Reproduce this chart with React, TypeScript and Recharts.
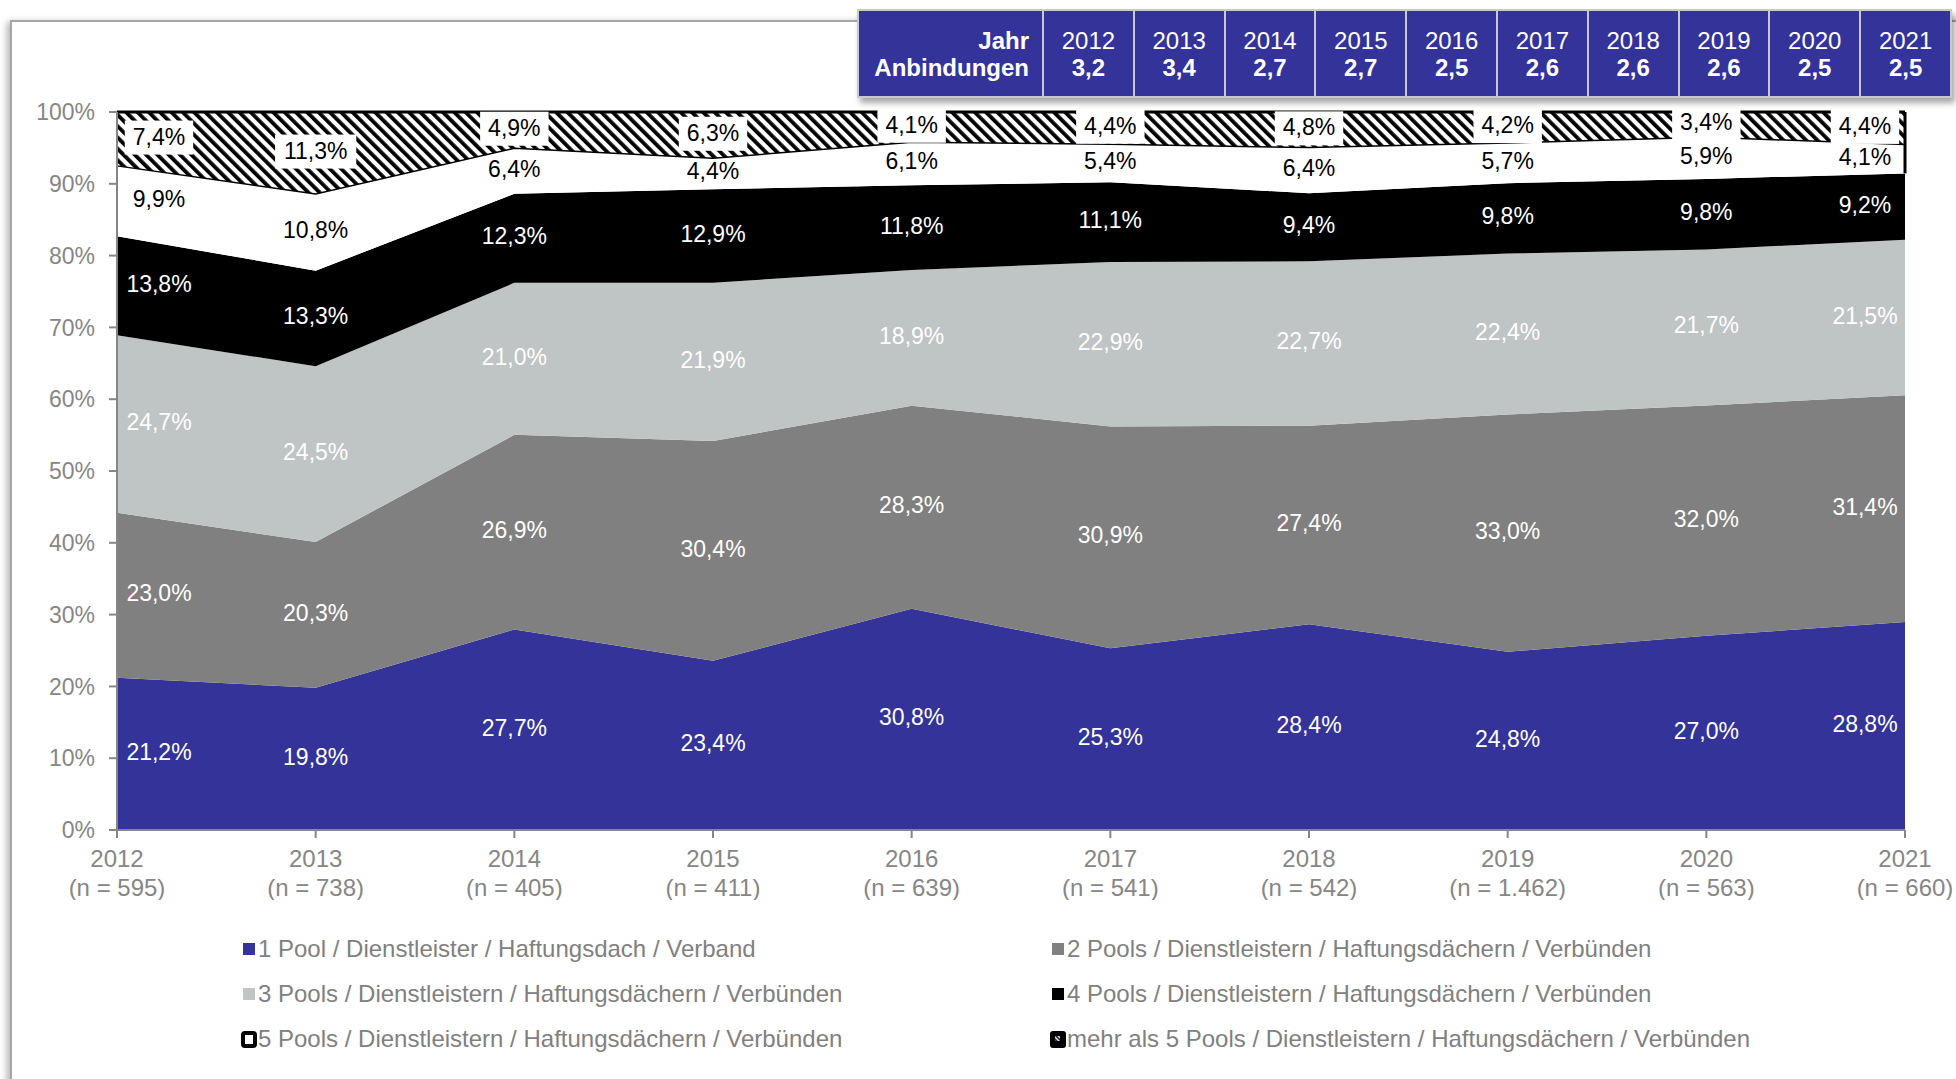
import React from 'react';
import { AreaChart, Area, XAxis, YAxis, LabelList, ReferenceLine } from 'recharts';

const years = ['2012', '2013', '2014', '2015', '2016', '2017', '2018', '2019', '2020', '2021'];
const sampleSizes = ['595', '738', '405', '411', '639', '541', '542', '1.462', '563', '660'];
const anbindungen = ['3,2', '3,4', '2,7', '2,7', '2,5', '2,6', '2,6', '2,6', '2,5', '2,5'];

const pool1 = [21.2, 19.8, 27.7, 23.4, 30.8, 25.3, 28.4, 24.8, 27.0, 28.8];
const pool2 = [23.0, 20.3, 26.9, 30.4, 28.3, 30.9, 27.4, 33.0, 32.0, 31.4];
const pool3 = [24.7, 24.5, 21.0, 21.9, 18.9, 22.9, 22.7, 22.4, 21.7, 21.5];
const pool4 = [13.8, 13.3, 12.3, 12.9, 11.8, 11.1, 9.4, 9.8, 9.8, 9.2];
const pool5 = [9.9, 10.8, 6.4, 4.4, 6.1, 5.4, 6.4, 5.7, 5.9, 4.1];
const poolMore = [7.4, 11.3, 4.9, 6.3, 4.1, 4.4, 4.8, 4.2, 3.4, 4.4];

const yTickValues = [0, 10, 20, 30, 40, 50, 60, 70, 80, 90, 100];

const seriesNames = [
  '1 Pool / Dienstleister / Haftungsdach / Verband',
  '2 Pools / Dienstleistern / Haftungsdächern / Verbünden',
  '3 Pools / Dienstleistern / Haftungsdächern / Verbünden',
  '4 Pools / Dienstleistern / Haftungsdächern / Verbünden',
  '5 Pools / Dienstleistern / Haftungsdächern / Verbünden',
  'mehr als 5 Pools / Dienstleistern / Haftungsdächern / Verbünden',
];

const FONT = "'Liberation Sans', Arial, Helvetica, sans-serif";
const AXIS_GRAY = '#868686';
const BLUE = '#333399';
const MID_GRAY = '#808080';
const LIGHT_GRAY = '#bfc4c4';

// chart layout
const CHART_W = 1956;
const CHART_H = 900;
const MARGIN = { top: 112, right: 51, bottom: 10, left: 37 };
const X_AXIS_H = 60;
const PLOT_H = CHART_H - MARGIN.top - MARGIN.bottom - X_AXIS_H;

const allSeries = [pool1, pool2, pool3, pool4, pool5, poolMore];
const totals = years.map((_, i) => allSeries.reduce((s, arr) => s + arr[i], 0));
const last = years.length - 1;
// share below the "5 Pools" band in the last year (for the closing edge of the top bands)
const lastBase = (pool1[last] + pool2[last] + pool3[last] + pool4[last]) / totals[last];

const data = years.map((year, i) => ({
  year,
  p1: pool1[i],
  p2: pool2[i],
  p3: pool3[i],
  p4: pool4[i],
  p5: pool5[i],
  p6: poolMore[i],
}));

const fmt = (v: number) => v.toFixed(1).replace('.', ',') + '%';

const charW: Record<string, number> = { ',': 0.278, '.': 0.278, '%': 0.889 };
const textWidth = (s: string, size: number) =>
  s.split('').reduce((w, c) => w + (charW[c] ?? 0.556), 0) * size;

const makeLabel = (vals: number[], color: string, boxed: boolean) => (props: any) => {
  const { x, y, index } = props;
  if (x == null || y == null || index == null) return null;
  const cy = Number(y) + (vals[index] / 2 / totals[index]) * PLOT_H - 2;
  let cx = Number(x);
  if (index === 0) cx += 42;
  else if (index === last) cx -= 40;
  const txt = fmt(vals[index]);
  const w = textWidth(txt, 23) + 16;
  return (
    <g>
      {boxed && <rect x={cx - w / 2} y={cy - 16} width={w} height={34} fill="#fff" />}
      <text x={cx} y={cy} textAnchor="middle" dominantBaseline="central" fill={color} fontSize={23} fontFamily={FONT}>
        {txt}
      </text>
    </g>
  );
};

const XTick = (props: any) => {
  const { x, y, payload, index } = props;
  return (
    <g>
      <text x={x} y={y + 18} textAnchor="middle" dominantBaseline="central" fill={AXIS_GRAY} fontSize={24} fontFamily={FONT}>
        {payload.value}
      </text>
      <text x={x} y={y + 47} textAnchor="middle" dominantBaseline="central" fill={AXIS_GRAY} fontSize={24} fontFamily={FONT}>
        {`(n = ${sampleSizes[index]})`}
      </text>
    </g>
  );
};

const LegendIcon = ({ idx }: { idx: number }) => {
  if (idx === 4) {
    return (
      <svg width={16} height={17} style={{ marginRight: 1 }}>
        <rect x={2} y={2} width={12} height={13} rx={2} fill="#fff" stroke="#000" strokeWidth={4} />
      </svg>
    );
  }
  if (idx === 5) {
    return (
      <svg width={16} height={17} style={{ marginRight: 1 }}>
        <rect x={0} y={0} width={16} height={17} rx={3} fill="#000" />
        <rect x={5} y={5} width={5} height={5} fill="url(#hatchSmall)" />
      </svg>
    );
  }
  const fills = [BLUE, MID_GRAY, LIGHT_GRAY, '#000'];
  return <div style={{ width: 12, height: 12, background: fills[idx], marginRight: 3 }} />;
};

export default function App() {
  const legendPos = [
    { left: 243, top: 949 },
    { left: 1052, top: 949 },
    { left: 243, top: 994 },
    { left: 1052, top: 994 },
    { left: 241, top: 1039 },
    { left: 1050, top: 1039 },
  ];

  return (
    <div style={{ position: 'absolute', left: 0, top: 0, width: 1956, height: 1079, overflow: 'hidden', background: '#fff', fontFamily: FONT }}>
      <svg width={0} height={0} style={{ position: 'absolute' }}>
        <defs>
          <pattern id="hatch" patternUnits="userSpaceOnUse" width={8} height={8} patternTransform="rotate(-45)">
            <rect x={0} y={0} width={8} height={8} fill="#fff" />
            <rect x={0} y={0} width={3.8} height={8} fill="#000" />
          </pattern>
          <pattern id="hatchSmall" patternUnits="userSpaceOnUse" width={3} height={3} patternTransform="rotate(-45)">
            <rect x={0} y={0} width={3} height={3} fill="#fff" />
            <rect x={0} y={0} width={1.5} height={3} fill="#000" />
          </pattern>
        </defs>
      </svg>

      {/* chart frame */}
      <div
        style={{
          position: 'absolute',
          left: 10,
          top: 20,
          width: 2100,
          height: 1200,
          border: '2px solid #a6a6a6',
          boxShadow: '-3px 2px 7px rgba(0,0,0,0.3)',
        }}
      />

      <div style={{ position: 'absolute', left: 0, top: 0 }}>
        <AreaChart width={CHART_W} height={CHART_H} data={data} margin={MARGIN} stackOffset="expand">
          <XAxis
            dataKey="year"
            interval={0}
            height={X_AXIS_H}
            tickSize={8}
            axisLine={{ stroke: AXIS_GRAY, strokeWidth: 2 }}
            tickLine={{ stroke: AXIS_GRAY, strokeWidth: 2 }}
            tick={<XTick />}
          />
          <YAxis
            width={80}
            domain={[0, 1]}
            ticks={yTickValues.map((v) => v / 100)}
            tickFormatter={(v: number) => `${Math.round(v * 100)}%`}
            tickSize={8}
            tickMargin={14}
            axisLine={{ stroke: AXIS_GRAY, strokeWidth: 2 }}
            tickLine={{ stroke: AXIS_GRAY, strokeWidth: 2 }}
            tick={{ fill: AXIS_GRAY, fontSize: 23, fontFamily: FONT }}
          />
          <Area type="linear" dataKey="p1" name={seriesNames[0]} stackId="a" fill={BLUE} fillOpacity={1} stroke="none" isAnimationActive={false}>
            <LabelList dataKey="p1" content={makeLabel(pool1, '#fff', false)} />
          </Area>
          <Area type="linear" dataKey="p2" name={seriesNames[1]} stackId="a" fill={MID_GRAY} fillOpacity={1} stroke="none" isAnimationActive={false}>
            <LabelList dataKey="p2" content={makeLabel(pool2, '#fff', false)} />
          </Area>
          <Area type="linear" dataKey="p3" name={seriesNames[2]} stackId="a" fill={LIGHT_GRAY} fillOpacity={1} stroke="none" isAnimationActive={false}>
            <LabelList dataKey="p3" content={makeLabel(pool3, '#fff', false)} />
          </Area>
          <Area type="linear" dataKey="p4" name={seriesNames[3]} stackId="a" fill="#000" fillOpacity={1} stroke="none" isAnimationActive={false}>
            <LabelList dataKey="p4" content={makeLabel(pool4, '#fff', false)} />
          </Area>
          <Area type="linear" dataKey="p5" name={seriesNames[4]} stackId="a" fill="#fff" fillOpacity={1} stroke="#000" strokeWidth={3} isAnimationActive={false}>
            <LabelList dataKey="p5" content={makeLabel(pool5, '#000', false)} />
          </Area>
          <Area type="linear" dataKey="p6" name={seriesNames[5]} stackId="a" fill="url(#hatch)" fillOpacity={1} stroke="#000" strokeWidth={3} isAnimationActive={false}>
            <LabelList dataKey="p6" content={makeLabel(poolMore, '#000', true)} />
          </Area>
          <ReferenceLine
            segment={[
              { x: years[last], y: lastBase },
              { x: years[last], y: 1 },
            ]}
            stroke="#000"
            strokeWidth={3}
          />
        </AreaChart>
      </div>

      {/* Anbindungen table */}
      <div
        style={{
          position: 'absolute',
          left: 857,
          top: 9,
          width: 1095,
          height: 89,
          boxSizing: 'border-box',
          background: BLUE,
          border: '2px solid #c8c8d0',
          boxShadow: '3px 5px 6px rgba(0,0,0,0.35)',
          display: 'flex',
          color: '#fff',
          fontSize: 24,
        }}
      >
        <div
          style={{
            width: 185,
            borderRight: '2px solid #c8c8d0',
            display: 'flex',
            flexDirection: 'column',
            justifyContent: 'center',
            alignItems: 'flex-end',
            paddingRight: 13,
            boxSizing: 'border-box',
            fontWeight: 'bold',
            lineHeight: '27px',
          }}
        >
          <div>Jahr</div>
          <div>Anbindungen</div>
        </div>
        {years.map((y, i) => (
          <div
            key={y}
            style={{
              flex: 1,
              borderRight: i < years.length - 1 ? '2px solid #c8c8d0' : 'none',
              display: 'flex',
              flexDirection: 'column',
              justifyContent: 'center',
              alignItems: 'center',
              lineHeight: '27px',
            }}
          >
            <div>{y}</div>
            <div style={{ fontWeight: 'bold' }}>{anbindungen[i]}</div>
          </div>
        ))}
      </div>

      {/* legend */}
      {seriesNames.map((name, i) => (
        <div
          key={name}
          style={{
            position: 'absolute',
            left: legendPos[i].left,
            top: legendPos[i].top - 15,
            height: 30,
            display: 'flex',
            alignItems: 'center',
            color: MID_GRAY,
            fontSize: 24,
            whiteSpace: 'nowrap',
          }}
        >
          <LegendIcon idx={i} />
          <span>{name}</span>
        </div>
      ))}
    </div>
  );
}
